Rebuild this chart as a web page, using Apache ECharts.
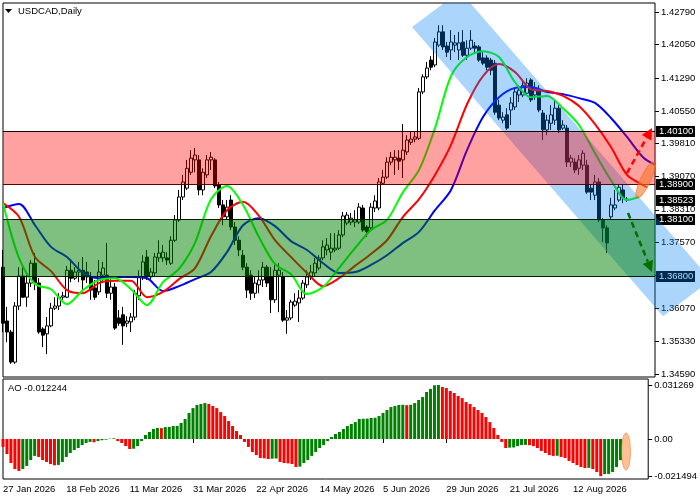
<!DOCTYPE html>
<html><head><meta charset="utf-8">
<script src="https://cdn.jsdelivr.net/npm/echarts@6/dist/echarts.min.js"></script>
<style>html,body{margin:0;padding:0;background:#fff}#c{width:700px;height:500px}</style>
</head><body><div id="c"></div>
<script>
// ---------- DATA ----------
// candles: [open, close, low, high], one per daily bar starting 27 Jan 2026
const candles = [
[1.3701,1.3574,1.3554,1.3740],[1.3579,1.3554,1.3531,1.3611],[1.3554,1.3486,1.3482,1.3559],[1.3486,1.3613,1.3482,1.3622],
[1.3613,1.3681,1.3604,1.3701],[1.3681,1.3633,1.3631,1.3701],[1.3633,1.3665,1.3611,1.3683],[1.3665,1.3710,1.3656,1.3717],
[1.3710,1.3665,1.3649,1.3733],[1.3665,1.3554,1.3550,1.3676],[1.3561,1.3547,1.3520,1.3565],[1.3550,1.3568,1.3504,1.3588],
[1.3568,1.3608,1.3565,1.3620],[1.3608,1.3613,1.3604,1.3633],[1.3613,1.3633,1.3604,1.3642],[1.3633,1.3636,1.3627,1.3645],
[1.3633,1.3694,1.3631,1.3704],[1.3694,1.3676,1.3667,1.3717],[1.3676,1.3690,1.3672,1.3701],[1.3690,1.3694,1.3667,1.3713],
[1.3694,1.3672,1.3649,1.3724],[1.3690,1.3679,1.3665,1.3713],[1.3679,1.3649,1.3627,1.3690],[1.3654,1.3633,1.3627,1.3672],
[1.3645,1.3690,1.3638,1.3717],[1.3683,1.3699,1.3667,1.3713],[1.3683,1.3642,1.3631,1.3756],[1.3642,1.3656,1.3627,1.3676],
[1.3656,1.3563,1.3559,1.3665],[1.3586,1.3574,1.3568,1.3604],[1.3593,1.3568,1.3525,1.3611],[1.3574,1.3579,1.3565,1.3590],
[1.3577,1.3588,1.3554,1.3597],[1.3588,1.3642,1.3581,1.3649],[1.3636,1.3679,1.3627,1.3694],[1.3679,1.3713,1.3672,1.3728],
[1.3724,1.3679,1.3672,1.3740],[1.3679,1.3690,1.3672,1.3699],[1.3688,1.3724,1.3681,1.3733],[1.3722,1.3733,1.3713,1.3762],
[1.3722,1.3735,1.3713,1.3751],[1.3722,1.3717,1.3706,1.3735],[1.3710,1.3762,1.3706,1.3771],[1.3762,1.3808,1.3758,1.3819],
[1.3808,1.3860,1.3803,1.3876],[1.3860,1.3894,1.3853,1.3910],[1.3880,1.3925,1.3876,1.3944],[1.3916,1.3948,1.3910,1.3966],
[1.3944,1.3955,1.3916,1.3971],[1.3944,1.3876,1.3864,1.3955],[1.3876,1.3916,1.3864,1.3925],[1.3910,1.3944,1.3903,1.3955],
[1.3944,1.3950,1.3921,1.3962],[1.3944,1.3885,1.3880,1.3948],[1.3887,1.3842,1.3835,1.3894],[1.3842,1.3815,1.3796,1.3853],
[1.3815,1.3837,1.3808,1.3853],[1.3853,1.3792,1.3785,1.3864],[1.3792,1.3762,1.3751,1.3803],[1.3762,1.3740,1.3726,1.3771],
[1.3728,1.3701,1.3694,1.3740],[1.3701,1.3649,1.3631,1.3710],[1.3683,1.3642,1.3627,1.3694],[1.3642,1.3665,1.3631,1.3679],
[1.3661,1.3672,1.3642,1.3694],[1.3672,1.3701,1.3656,1.3713],[1.3701,1.3665,1.3656,1.3706],[1.3679,1.3627,1.3597,1.3701],
[1.3627,1.3694,1.3620,1.3706],[1.3683,1.3694,1.3599,1.3710],[1.3679,1.3581,1.3577,1.3690],[1.3581,1.3586,1.3550,1.3604],
[1.3586,1.3622,1.3581,1.3627],[1.3615,1.3624,1.3611,1.3642],[1.3620,1.3631,1.3577,1.3649],[1.3631,1.3665,1.3627,1.3672],
[1.3661,1.3679,1.3654,1.3694],[1.3679,1.3690,1.3672,1.3706],[1.3688,1.3710,1.3681,1.3722],[1.3699,1.3722,1.3694,1.3728],
[1.3722,1.3747,1.3717,1.3762],[1.3740,1.3751,1.3728,1.3767],[1.3735,1.3744,1.3717,1.3778],[1.3740,1.3744,1.3735,1.3778],
[1.3744,1.3774,1.3740,1.3785],[1.3774,1.3817,1.3769,1.3826],[1.3801,1.3819,1.3796,1.3826],[1.3803,1.3812,1.3796,1.3824],
[1.3803,1.3808,1.3792,1.3830],[1.3803,1.3837,1.3799,1.3846],[1.3835,1.3785,1.3781,1.3842],[1.3792,1.3781,1.3769,1.3796],
[1.3790,1.3837,1.3785,1.3846],[1.3835,1.3851,1.3826,1.3864],[1.3835,1.3894,1.3830,1.3903],[1.3891,1.3905,1.3887,1.3921],
[1.3905,1.3939,1.3901,1.3950],[1.3939,1.3950,1.3932,1.3962],[1.3944,1.3950,1.3910,1.3966],[1.3948,1.3941,1.3921,1.3966],
[1.3944,1.3966,1.3903,1.4025],[1.3962,1.3989,1.3955,1.4000],[1.3984,1.3991,1.3978,1.4007],[1.3991,1.3996,1.3984,1.4007],
[1.3993,1.4098,1.3989,1.4107],[1.4098,1.4132,1.4093,1.4138],[1.4132,1.4152,1.4127,1.4166],[1.4170,1.4154,1.4147,1.4179],
[1.4159,1.4211,1.4154,1.4220],[1.4204,1.4234,1.4200,1.4249],[1.4234,1.4200,1.4193,1.4249],[1.4202,1.4188,1.4177,1.4211],
[1.4193,1.4211,1.4170,1.4238],[1.4204,1.4209,1.4188,1.4227],[1.4193,1.4209,1.4170,1.4234],[1.4211,1.4181,1.4177,1.4238],
[1.4181,1.4197,1.4170,1.4215],[1.4197,1.4215,1.4193,1.4238],[1.4202,1.4197,1.4186,1.4211],[1.4200,1.4170,1.4166,1.4204],
[1.4175,1.4163,1.4159,1.4188],[1.4175,1.4154,1.4147,1.4181],[1.4170,1.4147,1.4136,1.4175],[1.4163,1.4052,1.4046,1.4170],
[1.4068,1.4039,1.4034,1.4080],[1.4034,1.4041,1.4027,1.4052],[1.4046,1.4016,1.4012,1.4061],[1.4057,1.4073,1.4023,1.4086],
[1.4064,1.4098,1.4057,1.4107],[1.4091,1.4102,1.4075,1.4113],[1.4091,1.4113,1.4086,1.4125],[1.4095,1.4118,1.4091,1.4129],
[1.4125,1.4080,1.4075,1.4129],[1.4091,1.4107,1.4080,1.4120],[1.4102,1.4057,1.4052,1.4113],[1.4050,1.4012,1.3989,1.4057],
[1.4012,1.4034,1.4000,1.4046],[1.4027,1.4046,1.4012,1.4068],[1.4034,1.4061,1.4023,1.4080],[1.4061,1.4012,1.4005,1.4068],
[1.4016,1.4023,1.4012,1.4034],[1.4016,1.3939,1.3928,1.4023],[1.3939,1.3948,1.3928,1.3955],[1.3939,1.3921,1.3914,1.3948],
[1.3925,1.3944,1.3910,1.3955],[1.3932,1.3959,1.3921,1.3966],[1.3932,1.3871,1.3867,1.3944],[1.3880,1.3871,1.3853,1.3887],
[1.3864,1.3894,1.3853,1.3910],[1.3894,1.3808,1.3803,1.3903],[1.3808,1.3790,1.3758,1.3812],[1.3790,1.3756,1.3733,1.3796],
[1.3815,1.3842,1.3808,1.3858],[1.3835,1.3842,1.3830,1.3876],[1.3853,1.3882,1.3849,1.3887],[1.3876,1.3858,1.3846,1.3887],
[1.3855,1.38523,1.3849,1.3860]
];
// Alligator lines: [bar index, price]
const lips = [[0,1.3846],[4,1.3722],[8,1.3663],[12,1.3651],[16,1.3617],[20,1.3649],[24,1.3672],[28,1.3676],[32,1.3651],[36,1.3615],[40,1.3667],[44,1.3697],[48,1.3756],[52,1.3855],[56,1.3885],[60,1.3842],[64,1.3769],[68,1.3708],[72,1.3685],[76,1.3640],[80,1.3656],[84,1.3699],[88,1.3744],[92,1.3785],[96,1.3808],[100,1.3871],[104,1.3921],[108,1.4016],[112,1.4134],[116,1.4177],[120,1.4190],[124,1.4177],[128,1.4120],[132,1.4086],[136,1.4089],[140,1.4061],[144,1.4023],[148,1.3959],[152,1.3898],[156,1.3853],[159,1.3860]];
const teeth = [[0,1.3846],[4,1.3815],[8,1.3724],[12,1.3692],[16,1.3649],[20,1.3642],[24,1.3665],[28,1.3670],[32,1.3670],[36,1.3633],[40,1.3645],[44,1.3674],[48,1.3699],[52,1.3771],[56,1.3830],[60,1.3849],[64,1.3817],[68,1.3762],[72,1.3724],[76,1.3688],[80,1.3658],[84,1.3676],[88,1.3704],[92,1.3731],[96,1.3762],[100,1.3815],[104,1.3855],[108,1.3910],[112,1.3978],[116,1.4070],[120,1.4134],[124,1.4161],[128,1.4143],[132,1.4104],[136,1.4100],[140,1.4089],[144,1.4066],[148,1.4025],[152,1.3973],[156,1.3910],[160,1.3887],[161,1.3882]];
const jaw = [[0,1.3835],[4,1.3844],[8,1.3796],[12,1.3747],[16,1.3724],[20,1.3688],[24,1.3676],[28,1.3679],[32,1.3679],[36,1.3676],[40,1.3647],[44,1.3658],[48,1.3674],[52,1.3690],[56,1.3735],[60,1.3796],[64,1.3812],[68,1.3794],[72,1.3760],[76,1.3740],[80,1.3710],[84,1.3688],[88,1.3690],[92,1.3706],[96,1.3728],[100,1.3756],[104,1.3781],[108,1.3830],[112,1.3876],[116,1.3966],[120,1.4041],[124,1.4086],[128,1.4107],[132,1.4109],[136,1.4098],[140,1.4093],[144,1.4084],[148,1.4073],[152,1.4039],[156,1.3996],[160,1.3950],[163,1.3933]];
// Awesome Oscillator, one value per bar
const ao = [-0.0046,-0.0087,-0.0139,-0.0174,-0.0185,-0.0174,-0.0156,-0.0122,-0.0098,-0.0104,-0.0122,-0.0133,-0.0145,-0.0152,-0.0150,-0.0133,-0.0104,-0.0081,-0.0064,-0.0052,-0.0035,-0.0023,-0.0017,-0.0019,-0.0012,-0.0007,-0.0004,0.0002,0.0004,-0.0012,-0.0023,-0.0041,-0.0058,-0.0056,-0.0041,-0.0012,0.0023,0.0041,0.0058,0.0064,0.0063,0.0069,0.0070,0.0075,0.0076,0.0093,0.0116,0.0151,0.0179,0.0197,0.0203,0.0208,0.0203,0.0191,0.0179,0.0156,0.0133,0.0104,0.0075,0.0046,0.0023,-0.0017,-0.0046,-0.0075,-0.0093,-0.0110,-0.0112,-0.0116,-0.0114,-0.0113,-0.0133,-0.0139,-0.0141,-0.0145,-0.0162,-0.0160,-0.0139,-0.0122,-0.0098,-0.0075,-0.0052,-0.0035,-0.0012,0.0012,0.0029,0.0041,0.0058,0.0075,0.0087,0.0098,0.0116,0.0117,0.0118,0.0122,0.0123,0.0133,0.0151,0.0168,0.0185,0.0191,0.0197,0.0198,0.0196,0.0198,0.0208,0.0226,0.0243,0.0272,0.0290,0.0311,0.031269,0.0301,0.0295,0.0278,0.0266,0.0249,0.0237,0.0214,0.0203,0.0185,0.0168,0.0151,0.0127,0.0098,0.0064,0.0023,-0.0017,-0.0052,-0.0050,-0.0049,-0.0041,-0.0035,-0.0034,-0.0036,-0.0041,-0.0052,-0.0069,-0.0081,-0.0093,-0.0098,-0.0097,-0.0104,-0.0110,-0.0127,-0.0139,-0.0151,-0.0162,-0.0168,-0.0167,-0.0174,-0.0191,-0.021494,-0.0203,-0.0202,-0.0191,-0.0162,-0.012244];
const dateLabels = ['27 Jan 2026','18 Feb 2026','11 Mar 2026','31 Mar 2026','22 Apr 2026','14 May 2026','5 Jun 2026','29 Jun 2026','21 Jul 2026','12 Aug 2026'];
const dateEvery = 16;
const nSlots = 164;
const priceTicks = [1.42790,1.42050,1.41290,1.40550,1.39810,1.39070,1.38310,1.37570,1.36830,1.36070,1.35330,1.34590];
const aoTicks = [0.031269, 0, -0.021494];
const priceRange = [1.34522, 1.42994];
const aoRange = [-0.02316, 0.03474];
const resistanceZone = [1.40100, 1.38900];
const supportZone = [1.38100, 1.36800];
const lastPrice = 1.38523;
const channelPts = [[102.25,1.4245],[165,1.3590],[177,1.3672],[114.25,1.4326]];
const arrowUp = [[156,1.3914],[162.25,1.4016]];
const arrowDown = [[156.25,1.3824],[162.25,1.3690]];
const markMain = [[158.5,1.3858],[162.75,1.3939]];
const markAO = [[155.75,0.0035],[155.75,-0.0179]];
const aoLabel = 'AO -0.012244';
const titleText = 'USDCAD,Daily';

// ---------- CHART ----------
const FF = '"Liberation Sans", Arial, sans-serif';
const FS = 9.5;
const cats = Array.from({length:nSlots}, (_, i) => 'b' + i);
const GL = 3, GW = 652, T0 = 3, H0 = 374, T1 = 379, H1 = 100;
const showDate = (idx) => idx % dateEvery === 0 && idx / dateEvery < dateLabels.length;
const aoData = ao.map((v, i) => ({value: v, itemStyle: {color: (i > 0 && v > ao[i-1]) ? '#008000' : '#ff0000'}}));

const chart = echarts.init(document.getElementById('c'), null, {renderer: 'canvas'});
chart.setOption({
  animation: false,
  backgroundColor: '#ffffff',
  grid: [
    {left: GL, top: T0, width: GW, height: H0, show: true, borderColor: '#000', borderWidth: 1, backgroundColor: 'transparent'},
    {left: GL, top: T1, width: GW, height: H1, show: true, borderColor: '#000', borderWidth: 1, backgroundColor: 'transparent'}
  ],
  xAxis: [
    {gridIndex: 0, type: 'category', data: cats, boundaryGap: false, axisLine: {show: false}, axisTick: {show: false}, axisLabel: {show: false}, splitLine: {show: false}},
    {gridIndex: 1, type: 'category', data: cats, boundaryGap: false, axisLine: {show: false},
      axisTick: {show: true, length: 4, interval: showDate, lineStyle: {color: '#000'}},
      axisLabel: {show: true, interval: showDate, align: 'left', margin: 5, color: '#000', fontFamily: FF, fontSize: FS,
        formatter: (v, idx) => dateLabels[Math.round(idx / dateEvery)] || ''},
      splitLine: {show: false}}
  ],
  yAxis: [
    {gridIndex: 0, type: 'value', position: 'right', min: priceRange[0], max: priceRange[1],
      axisLine: {show: false}, splitLine: {show: false},
      axisTick: {show: true, length: 4, lineStyle: {color: '#000'}, customValues: priceTicks},
      axisLabel: {show: true, margin: 6, color: '#000', fontFamily: FF, fontSize: FS, customValues: priceTicks, formatter: v => v.toFixed(5)}},
    {gridIndex: 1, type: 'value', position: 'right', min: aoRange[0], max: aoRange[1],
      axisLine: {show: false}, splitLine: {show: false},
      axisTick: {show: true, length: 4, lineStyle: {color: '#000'}, customValues: aoTicks},
      axisLabel: {show: true, margin: 6, color: '#000', fontFamily: FF, fontSize: FS, customValues: aoTicks, formatter: v => v === 0 ? '0.00' : v.toFixed(6)}}
  ],
  series: [
    {type: 'candlestick', xAxisIndex: 0, yAxisIndex: 0, data: candles, barWidth: 3, z: 3,
      itemStyle: {color: '#ffffff', color0: '#000000', borderColor: '#000000', borderColor0: '#000000', borderWidth: 1}},
    {type: 'line', xAxisIndex: 0, yAxisIndex: 0, data: jaw, showSymbol: false, symbol: 'none', smooth: 0.3, lineStyle: {color: '#0000ff', width: 2}, z: 4},
    {type: 'line', xAxisIndex: 0, yAxisIndex: 0, data: teeth, showSymbol: false, symbol: 'none', smooth: 0.3, lineStyle: {color: '#ff0000', width: 2}, z: 5},
    {type: 'line', xAxisIndex: 0, yAxisIndex: 0, data: lips, showSymbol: false, symbol: 'none', smooth: 0.3, lineStyle: {color: '#00ff00', width: 2}, z: 6},
    {type: 'bar', xAxisIndex: 1, yAxisIndex: 1, data: aoData, barWidth: 3, z: 3}
  ]
});

// ---------- ANNOTATIONS ----------
const xa = chart.convertToPixel({xAxisIndex: 0}, cats[0]);
const xb = chart.convertToPixel({xAxisIndex: 0}, cats[1]);
const px = i => xa + (xb - xa) * i;
const py = p => chart.convertToPixel({yAxisIndex: 0}, p);
const ay = v => chart.convertToPixel({yAxisIndex: 1}, v);

function clipTop(poly, yTop) {
  const out = [];
  for (let k = 0; k < poly.length; k++) {
    const a = poly[k], b = poly[(k + 1) % poly.length];
    const ina = a[1] >= yTop, inb = b[1] >= yTop;
    if (ina) out.push(a);
    if (ina !== inb) {
      const t = (yTop - a[1]) / (b[1] - a[1]);
      out.push([a[0] + t * (b[0] - a[0]), yTop]);
    }
  }
  return out;
}
const els = [];
// price boxes on the axis
[resistanceZone[0], resistanceZone[1], lastPrice, supportZone[0], supportZone[1]].forEach(p => {
  const y = Math.round(py(p));
  els.push({type: 'rect', z: 50, shape: {x: 656, y: y - 5, width: 39, height: 11}, style: {fill: '#000'}});
  els.push({type: 'text', z: 51, x: 659, y: y + 0.5, style: {text: p.toFixed(5), fill: '#fff', font: FS + 'px ' + FF, align: 'left', verticalAlign: 'middle'}});
});
// channel
const chPoly = clipTop(channelPts.map(d => [px(d[0]), py(d[1])]), T0);
els.push({type: 'polygon', z: 60, shape: {points: chPoly}, style: {fill: 'rgba(0,127,240,0.33)'}});
// zones
function zone(z, fill) {
  const y1 = Math.round(py(z[0])), y2 = Math.round(py(z[1]));
  els.push({type: 'rect', z: 70, shape: {x: GL, y: y1, width: GW, height: y2 - y1}, style: {fill: fill}});
}
zone(resistanceZone, 'rgba(255,0,0,0.37)');
zone(supportZone, 'rgba(0,128,0,0.5)');
function hline(p, color) {
  const y = Math.round(py(p)) + 0.5;
  els.push({type: 'line', z: 75, shape: {x1: GL, y1: y, x2: GL + GW, y2: y}, style: {stroke: color, lineWidth: 1}});
}
hline(resistanceZone[0], '#1a0000');
hline(resistanceZone[1], '#5a0000');
hline(supportZone[0], '#002000');
hline(supportZone[1], '#002000');
// highlight ellipses
function ellipse(p1, p2, halfW, fill, stroke) {
  const cx = (p1[0] + p2[0]) / 2, cy = (p1[1] + p2[1]) / 2;
  const dx = p2[0] - p1[0], dy = p2[1] - p1[1];
  const len = Math.sqrt(dx * dx + dy * dy);
  els.push({type: 'ellipse', z: 78, x: cx, y: cy, rotation: -Math.atan2(dy, dx),
    shape: {cx: 0, cy: 0, rx: len / 2, ry: halfW}, style: {fill: fill, stroke: stroke, lineWidth: 1}});
}
ellipse([px(markMain[0][0]), py(markMain[0][1])], [px(markMain[1][0]), py(markMain[1][1])], 5, 'rgba(250,120,40,0.6)', 'rgba(240,110,30,0.6)');
ellipse([px(markAO[0][0]), ay(markAO[0][1])], [px(markAO[1][0]), ay(markAO[1][1])], 4.5, 'rgba(250,130,40,0.5)', 'rgba(240,110,30,0.5)');
// arrows
function arrow(a, color) {
  const x1 = px(a[0][0]), y1 = py(a[0][1]), x2 = px(a[1][0]), y2 = py(a[1][1]);
  const dx = x2 - x1, dy = y2 - y1, L = Math.sqrt(dx * dx + dy * dy), ux = dx / L, uy = dy / L;
  const hl = 11, hw = 5.5;
  const bx = x2 - ux * hl, by = y2 - uy * hl;
  els.push({type: 'line', z: 80, shape: {x1: x1, y1: y1, x2: bx, y2: by}, style: {stroke: color, lineWidth: 2.5, lineDash: [6, 4]}});
  els.push({type: 'polygon', z: 81, shape: {points: [[x2, y2], [bx - uy * hw, by + ux * hw], [bx + uy * hw, by - ux * hw]]}, style: {fill: color}});
}
arrow(arrowUp, '#ff0000');
arrow(arrowDown, '#007000');
// titles
els.push({type: 'polygon', z: 90, shape: {points: [[5, 9], [12, 9], [8.5, 13]]}, style: {fill: '#000'}});
els.push({type: 'text', z: 90, x: 18, y: 11.5, style: {text: titleText, fill: '#000', font: FS + 'px ' + FF, align: 'left', verticalAlign: 'middle'}});
els.push({type: 'text', z: 90, x: 8, y: 388.5, style: {text: aoLabel, fill: '#000', font: FS + 'px ' + FF, align: 'left', verticalAlign: 'middle'}});

chart.setOption({graphic: {elements: els}});
</script>
</body></html>
